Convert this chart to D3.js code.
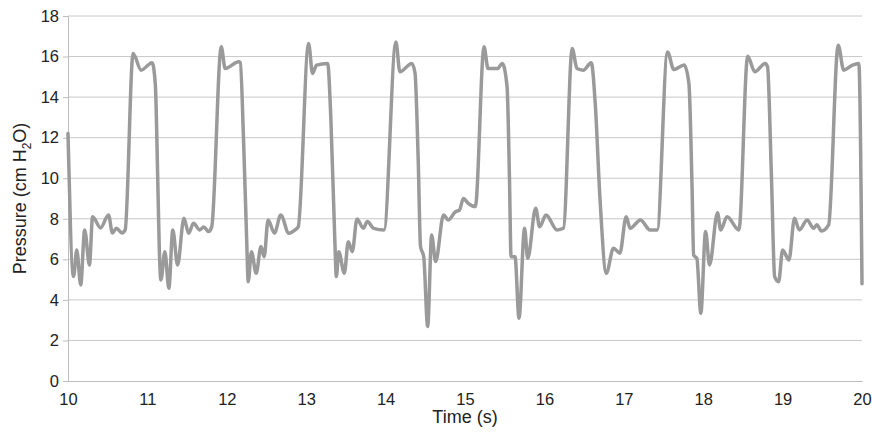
<!DOCTYPE html>
<html>
<head>
<meta charset="utf-8">
<script src="https://cdn.jsdelivr.net/npm/d3@7"></script>
<style>
  html, body { margin: 0; padding: 0; background: #fff; }
  svg { display: block; }
  text { font-family: "Liberation Sans", Arial, Helvetica, sans-serif; fill: #222; }
</style>
</head>
<body>
<svg id="chart" width="872" height="435"></svg>
<script>
const times = [
  10.00,10.07,10.11,10.16,10.21,10.27,10.31,10.41,10.51,10.56,10.61,10.68,10.72,10.82,10.92,11.06,11.10,11.13,11.15,11.17,
  11.22,11.27,11.32,11.38,11.46,11.52,11.58,11.66,11.71,11.77,11.81,11.93,11.98,12.15,12.17,12.21,12.25,12.27,
  12.31,12.37,12.43,12.47,12.52,12.60,12.68,12.78,12.86,12.90,13.03,13.08,13.13,13.27,13.31,13.36,13.38,
  13.41,13.48,13.53,13.58,13.64,13.72,13.77,13.85,13.98,14.13,14.18,14.33,14.37,14.41,14.44,14.48,14.53,
  14.58,14.63,14.73,14.79,14.88,14.93,14.98,15.04,15.13,15.24,15.29,15.41,15.47,15.53,15.56,15.58,15.63,15.68,
  15.75,15.79,15.89,15.94,16.02,16.16,16.24,16.35,16.41,16.49,16.59,16.64,16.70,16.78,
  16.87,16.95,17.03,17.08,17.21,17.33,17.42,17.55,17.63,17.76,17.82,17.86,17.88,17.92,17.97,
  18.03,18.08,18.18,18.22,18.30,18.45,18.56,18.65,18.78,18.81,18.86,18.90,18.95,
  19.00,19.08,19.15,19.21,19.31,19.39,19.43,19.49,19.58,19.70,19.77,19.88,19.96,20.00
];
const pressure = [
  12.2,5.15,6.46,4.74,7.45,5.72,8.1,7.55,8.19,7.3,7.53,7.3,7.45,16.15,15.33,15.7,14.6,10.0,6.5,4.98,
  6.38,4.57,7.45,5.72,8.02,7.29,7.78,7.45,7.6,7.37,7.6,16.48,15.41,15.74,15.7,12.0,7.0,4.9,
  6.38,5.31,6.63,6.13,7.94,7.29,8.19,7.29,7.45,7.61,16.64,15.17,15.58,15.66,13.0,7.0,5.15,
  6.38,5.31,6.87,6.38,7.99,7.53,7.86,7.53,7.45,16.72,15.25,15.66,15.2,11.0,6.63,6.13,2.69,
  7.2,5.89,8.19,7.94,8.35,8.43,9.0,8.76,8.6,16.48,15.41,15.41,15.66,14.5,10.0,6.13,6.13,3.1,
  7.53,6.05,8.52,7.61,8.19,7.45,7.53,16.4,15.41,15.33,15.7,13.7,9.0,5.31,
  6.55,6.3,8.1,7.53,7.94,7.45,7.45,16.23,15.36,15.58,14.67,9.5,6.2,6.05,3.34,
  7.37,5.72,8.3,7.45,8.1,7.45,16.02,15.25,15.66,15.5,10.0,5.15,4.9,
  6.46,5.97,8.02,7.45,7.94,7.53,7.7,7.4,7.7,16.56,15.33,15.58,15.66,4.8
];
const xTicks = [10,11,12,13,14,15,16,17,18,19,20];
const yTicks = [0,2,4,6,8,10,12,14,16,18];

const data = times.map((t, i) => ({ t, p: pressure[i] }));

const svg = d3.select("#chart");
const margin = { left: 68, right: 10, top: 16, bottom: 54 };
const W = 872, H = 435;
const x = d3.scaleLinear().domain([10, 20]).range([margin.left, W - margin.right]);
const y = d3.scaleLinear().domain([0, 18]).range([H - margin.bottom, margin.top]);
const font = "'Liberation Sans', Arial, sans-serif";

// gridlines
svg.append("g").selectAll("line").data(yTicks.filter(d => d > 0)).join("line")
  .attr("x1", x(10)).attr("x2", x(20))
  .attr("y1", d => y(d)).attr("y2", d => y(d))
  .attr("stroke", "#c8c8c8").attr("stroke-width", 1);

// axes
const yAxis = d3.axisLeft(y).tickValues(yTicks).tickSize(5).tickPadding(4);
const gy = svg.append("g").attr("transform", `translate(${margin.left},0)`).call(yAxis);
gy.select(".domain").attr("stroke", "#bdbdbd");
gy.selectAll(".tick line").attr("stroke", "#bdbdbd");
gy.selectAll("text").attr("font-size", 16.5).attr("fill", "#222").attr("font-family", font);

const xAxis = d3.axisBottom(x).tickValues(xTicks).tickSize(0).tickPadding(12);
const gx = svg.append("g").attr("transform", `translate(0,${y(0)})`).call(xAxis);
gx.select(".domain").attr("stroke", "#bdbdbd");
gx.selectAll("text").attr("font-size", 16.5).attr("fill", "#222").attr("font-family", font);

// line
const line = d3.line().x(d => x(d.t)).y(d => y(d.p)).curve(d3.curveMonotoneX);
svg.append("path").datum(data)
  .attr("d", line)
  .attr("fill", "none")
  .attr("stroke", "#9a9a9a")
  .attr("stroke-width", 3.5)
  .attr("stroke-linejoin", "round")
  .attr("stroke-linecap", "round");

// axis titles
svg.append("text").attr("x", x(15)).attr("y", 423)
  .attr("text-anchor", "middle").attr("font-size", 18).text("Time (s)");

const yt = svg.append("text")
  .attr("transform", `translate(26,${y(9)}) rotate(-90)`)
  .attr("text-anchor", "middle").attr("font-size", 18);
yt.append("tspan").text("Pressure (cm H");
yt.append("tspan").attr("font-size", 12).attr("dy", 5).text("2");
yt.append("tspan").attr("dy", -5).text("O)");
</script>
</body>
</html>
